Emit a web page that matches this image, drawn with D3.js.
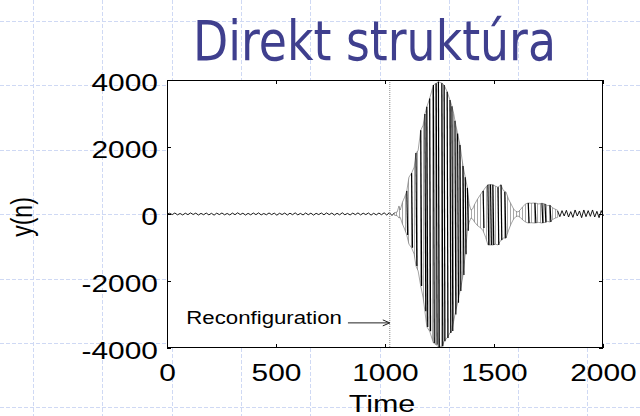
<!DOCTYPE html>
<html>
<head>
<meta charset="utf-8">
<script src="https://cdn.jsdelivr.net/npm/d3@7"></script>
<style>
  html, body { margin: 0; padding: 0; background: #fff; }
  svg { display: block; }
</style>
</head>
<body>
<svg id="chart" width="640" height="416"></svg>
<script>
// ---- data ---------------------------------------------------------------
const xTicks = [0, 500, 1000, 1500, 2000];
const yTicks = [-4000, -2000, 0, 2000, 4000];
const reconfigTime = 1022;
const annotationValue = -3250;
const annotationFrom = 830;

// quiet output before the reconfiguration (one vertex every 12 samples)
const quietStep = 12;
const quietNoise = [0, 22, -18, 30, -25, 15, -28, 24, -20, 32, -15, 26, -30, 18, -22, 28,
  -26, 20, -34, 25, -18, 30, -24, 16, -29, 27, -21, 35, -17, 23, -31, 19, -25, 29, -20, 33,
  -27, 15, -23, 31, -19, 26, -35, 22, -16, 28, -30, 24, -21, 34, -26, 18, -28, 30, -22, 25,
  -33, 20, -17, 29, -24, 32, -19, 27, -31, 21, -25, 36, -23, 18, -29, 26, -20, 33, -27, 24,
  -18, 30, -34, 22, -26, 28, -21, 35, -30, 40, -45, 40];

// envelope of the oscillating transient
const envT  = [1044, 1056, 1064, 1070, 1080, 1090, 1100, 1110, 1122, 1134, 1142, 1152, 1164, 1175,
  1183, 1192, 1205, 1222, 1235, 1245, 1255, 1263, 1271, 1285, 1298, 1307, 1315, 1321, 1333, 1344,
  1352, 1358, 1368, 1378, 1386, 1394, 1402, 1412, 1425, 1440, 1450, 1462, 1472, 1484, 1495, 1507,
  1518, 1532, 1543, 1555, 1566, 1578, 1590, 1600, 1610, 1620, 1632, 1645, 1657, 1670, 1688, 1705,
  1720, 1734, 1746, 1757, 1770, 1782, 1792];
const envHi = [40, 60, 240, 120, 350, 500, 690, 1100, 1220, 1400, 1820, 1900, 2500, 2650,
  2985, 3200, 3450, 3850, 3900, 3950, 3920, 3900, 3850, 3650, 3400, 3220, 3000, 2780, 2400, 2060,
  1700, 1430, 1100, 780, 300, 120, 150, 300, 450, 600, 690, 800, 870, 880, 870, 830,
  800, 870, 700, 660, 450, 300, 150, 80, 60, 120, 220, 300, 330, 320, 330, 300,
  320, 300, 250, 260, 180, 140, 110];
const envLo = [-40, -50, -120, -100, -300, -450, -630, -900, -1010, -1200, -1550, -1700, -2150, -2500,
  -2900, -3370, -3500, -3850, -3900, -3970, -3950, -3950, -3800, -3700, -3550, -3490, -3200, -3000, -2650, -2300,
  -2050, -1820, -1200, -500, -250, -120, -150, -250, -350, -420, -500, -700, -925, -925, -925, -900,
  -925, -780, -720, -720, -500, -300, -150, -80, -60, -100, -180, -240, -270, -260, -270, -250,
  -270, -250, -220, -240, -160, -120, -100];

// strongest individual swings (peak, trough)
const spikeT  = [1100, 1122, 1142, 1164, 1183, 1192, 1205, 1222, 1235, 1245, 1261, 1271, 1285, 1298,
  1307, 1321, 1333, 1344, 1358, 1368, 1378, 1450, 1472, 1484, 1495, 1518, 1532, 1550,
  1657, 1688, 1720, 1734, 1757];
const spikeHi = [690, 1220, 1820, 2500, 2985, 3200, 3450, 3850, 3900, 3950, 3900, 3850, 3650, 3400,
  3220, 2780, 2400, 2060, 1430, 1100, 780, 690, 870, 880, 870, 800, 870, 660,
  330, 330, 320, 300, 260];
const spikeLo = [-630, -1010, -1550, -2150, -2900, -3370, -3500, -3850, -3900, -3970, -3950, -3800, -3700, -3550,
  -3490, -3000, -2650, -2300, -1820, -1200, -500, -420, -925, -925, -925, -925, -780, -720,
  -270, -270, -270, -250, -240];

// residual ringing after the transient (one vertex every 10 samples)
const tailStart = 1792;
const tailStep = 10;
const tailNoise = [90, -80, 100, -60, 110, -90, 70, -100, 120, -60, 90, -110, 120, -80,
  100, -70, 120, -90, 80, -110, 100, -60];

// ---- layout -------------------------------------------------------------
const W = 640, H = 416;
const plot = { l: 167, r: 603, t: 80, b: 348 };
const svg = d3.select('#chart');

const x = d3.scaleLinear().domain([0, 2000]).range([plot.l, plot.r]);
const y = d3.scaleLinear().domain([-4000, 4000]).range([plot.b, plot.t]);

// slide background grid
const grid = svg.append('g')
  .attr('stroke', '#cfd9f4').attr('stroke-width', 1).attr('stroke-dasharray', '4,2');
d3.range(33, W, 69.3).forEach(gx => {
  grid.append('line').attr('x1', Math.round(gx) + 0.5).attr('x2', Math.round(gx) + 0.5)
    .attr('y1', 0).attr('y2', H);
});
d3.range(21, H, 64.4).forEach(gy => {
  grid.append('line').attr('y1', Math.round(gy) + 0.5).attr('y2', Math.round(gy) + 0.5)
    .attr('x1', 0).attr('x2', W);
});

// title
svg.append('text')
  .attr('x', 193).attr('y', 60)
  .attr('font-family', '"DejaVu Sans", Verdana, sans-serif')
  .attr('font-size', 56)
  .attr('textLength', 363).attr('lengthAdjust', 'spacingAndGlyphs')
  .attr('fill', '#3f3f8e')
  .text('Direkt struktúra');

// plot background
svg.append('rect')
  .attr('x', plot.l).attr('y', plot.t)
  .attr('width', plot.r - plot.l).attr('height', plot.b - plot.t)
  .attr('fill', '#fff');

// stripe texture used for the dense oscillation
const defs = svg.append('defs');
const pat = defs.append('pattern').attr('id', 'osc')
  .attr('patternUnits', 'userSpaceOnUse').attr('width', 3).attr('height', 4);
pat.append('rect').attr('width', 3).attr('height', 4).attr('fill', '#fff');
pat.append('rect').attr('width', 1).attr('height', 4).attr('fill', '#a8a8a8');

const sig = svg.append('g');

// quiet segment
const quietPts = quietNoise.map((v, i) => [i * quietStep, v]);
const line = d3.line().x(d => x(d[0])).y(d => y(d[1]));
sig.append('path').attr('d', line(quietPts))
  .attr('fill', 'none').attr('stroke', '#000').attr('stroke-width', 0.9);

// envelope of the transient
const env = envT.map((t, i) => ({ t, hi: envHi[i], lo: envLo[i] }));
sig.append('path')
  .attr('d', d3.area().x(d => x(d.t)).y0(d => y(d.lo)).y1(d => y(d.hi))(env))
  .attr('fill', 'url(#osc)').attr('stroke', '#666').attr('stroke-width', 0.6);

// individual swings
sig.append('g').selectAll('line')
  .data(spikeT.map((t, i) => ({ t, hi: spikeHi[i], lo: spikeLo[i] })))
  .join('line')
  .attr('x1', d => x(d.t)).attr('x2', d => x(d.t + 4))
  .attr('y1', d => y(d.hi)).attr('y2', d => y(d.lo))
  .attr('stroke', '#000').attr('stroke-width', 1.2);

// tail
const tailPts = tailNoise.map((v, i) => [tailStart + i * tailStep, v]);
sig.append('path').attr('d', line(tailPts))
  .attr('fill', 'none').attr('stroke', '#000').attr('stroke-width', 0.9);

// reconfiguration marker
svg.append('line')
  .attr('x1', x(reconfigTime)).attr('x2', x(reconfigTime))
  .attr('y1', plot.t).attr('y2', plot.b)
  .attr('stroke', '#8c8c8c').attr('stroke-width', 1).attr('stroke-dasharray', '1,1');

// axes (MATLAB-style inward ticks on all four sides)
const tickLen = 4;
const plain = d => String(d);
const axB = svg.append('g').attr('transform', `translate(0,${plot.b})`)
  .call(d3.axisBottom(x).tickValues(xTicks).tickFormat(plain)
    .tickSizeInner(-tickLen).tickSizeOuter(0).tickPadding(17));
const axT = svg.append('g').attr('transform', `translate(0,${plot.t})`)
  .call(d3.axisTop(x).tickValues(xTicks).tickSizeInner(-tickLen).tickSizeOuter(0).tickFormat(''));
const axL = svg.append('g').attr('transform', `translate(${plot.l},0)`)
  .call(d3.axisLeft(y).tickValues(yTicks).tickFormat(plain)
    .tickSizeInner(-tickLen).tickSizeOuter(0).tickPadding(7));
const axR = svg.append('g').attr('transform', `translate(${plot.r},0)`)
  .call(d3.axisRight(y).tickValues(yTicks).tickSizeInner(-tickLen).tickSizeOuter(0).tickFormat(''));
[axB, axT, axL, axR].forEach(a => {
  a.select('.domain').remove();
  a.selectAll('line').attr('stroke', '#000');
});
const labelFont = '"Liberation Sans", Arial, Helvetica, sans-serif';
axB.selectAll('text')
  .attr('font-family', labelFont).attr('font-size', 23).attr('fill', '#000')
  .attr('transform', 'scale(1.3,1)');
axL.selectAll('text')
  .attr('font-family', labelFont).attr('font-size', 23).attr('fill', '#000')
  .attr('dy', '0.45em')
  .attr('transform', 'scale(1.3,1)');

// frame
svg.append('rect')
  .attr('x', plot.l + 0.5).attr('y', plot.t + 0.5)
  .attr('width', plot.r - plot.l - 1).attr('height', plot.b - plot.t - 1)
  .attr('fill', 'none').attr('stroke', '#000').attr('stroke-width', 1);

// axis titles
svg.append('text')
  .attr('transform', `translate(382,412) scale(1.27,1)`)
  .attr('text-anchor', 'middle')
  .attr('font-family', labelFont).attr('font-size', 24).attr('fill', '#000')
  .text('Time');
svg.append('text')
  .attr('transform', `translate(32,217) scale(1.3,1) rotate(-90)`)
  .attr('text-anchor', 'middle')
  .attr('font-family', labelFont).attr('font-size', 23).attr('fill', '#000')
  .text('y(n)');

// annotation
const ay = y(annotationValue);
const ax0 = x(annotationFrom), ax1 = x(reconfigTime);
svg.append('text')
  .attr('transform', `translate(${ax0 - 6},${ay + 1.5}) scale(1.27,1)`)
  .attr('text-anchor', 'end')
  .attr('font-family', labelFont).attr('font-size', 17.5).attr('fill', '#000')
  .text('Reconfiguration');
const arrow = svg.append('g').attr('stroke', '#222').attr('stroke-width', 1).attr('fill', 'none');
arrow.append('line').attr('x1', ax0).attr('x2', ax1).attr('y1', ay).attr('y2', ay);
arrow.append('path').attr('d', `M${ax1 - 7},${ay - 3}L${ax1},${ay}L${ax1 - 7},${ay + 3}`);
</script>
</body>
</html>
